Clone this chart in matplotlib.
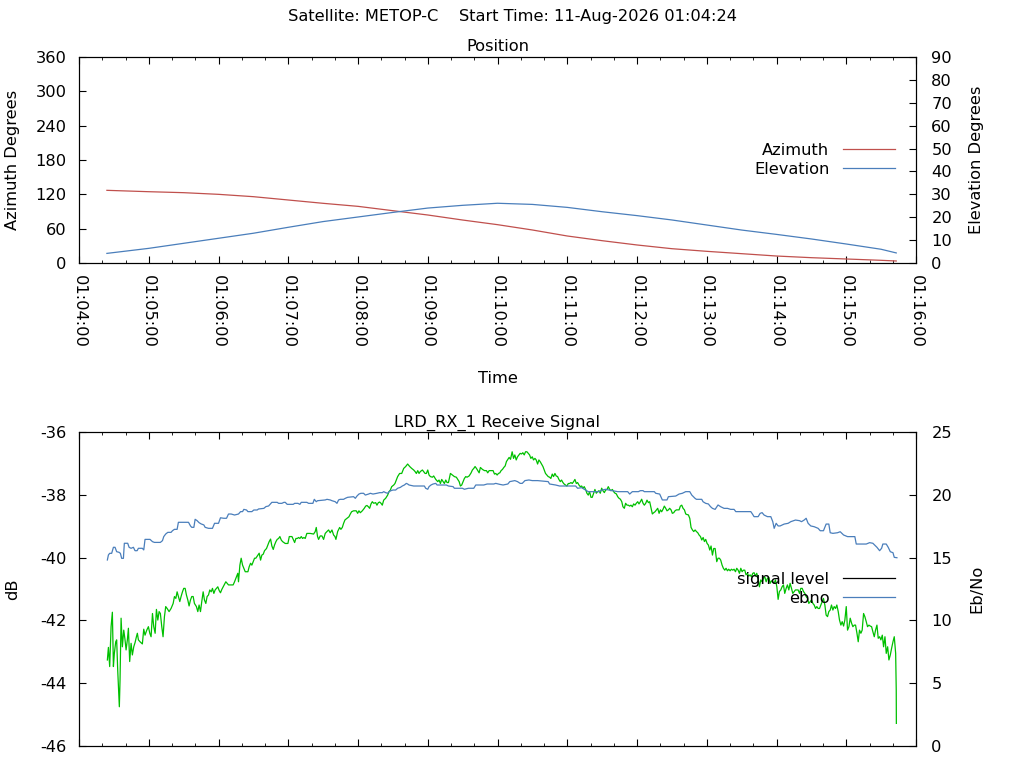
import matplotlib
matplotlib.use('Agg')
import matplotlib.pyplot as plt
from matplotlib.lines import Line2D

FS = 11.7
plt.rcParams['font.family'] = ['DejaVu Sans']
plt.rcParams['font.size'] = FS
plt.rcParams['axes.unicode_minus'] = False

# ---- data (x = seconds after 01:04:00) ----
sup_title = 'Satellite: METOP-C    Start Time: 11-Aug-2026 01:04:24'
time_ticks = [0, 60, 120, 180, 240, 300, 360, 420, 480, 540, 600, 660, 720]
time_labels = ['01:04:00', '01:05:00', '01:06:00', '01:07:00', '01:08:00',
               '01:09:00', '01:10:00', '01:11:00', '01:12:00', '01:13:00',
               '01:14:00', '01:15:00', '01:16:00']

pos_t = [24, 60, 90, 120, 150, 180, 210, 240, 270, 300, 330, 360, 390, 420,
         450, 480, 510, 540, 570, 600, 630, 660, 690, 703]
azimuth = [127.0, 124.6, 122.9, 120.0, 115.9, 110.1, 104.3, 99.0, 91.4, 83.9,
           75.1, 67.0, 57.7, 47.2, 39.0, 31.5, 25.0, 20.4, 16.3, 12.2, 9.3,
           7.0, 4.7, 3.5]
elevation = [4.2, 6.4, 8.6, 10.8, 13.0, 15.6, 18.1, 20.1, 22.1, 24.0, 25.2,
             26.1, 25.6, 24.3, 22.4, 20.7, 18.8, 16.6, 14.4, 12.5, 10.5, 8.3,
             6.0, 4.4]

sig_t = [24.4, 25.3, 26.4, 27.6, 28.7, 29.6, 30.4, 31.6, 32.4, 33.3, 34.2, 34.7,
         35.3, 36.2, 37.3, 38.5, 39.6, 40.5, 41.6, 42.5, 43.6, 44.8, 45.9, 47.1,
         48.2, 49.4, 50.2, 51.1, 52.5, 54.5, 55.7, 56.8, 58.3, 59.7, 60.9, 62.0,
         63.2, 64.3, 65.5, 66.6, 67.8, 68.9, 70.0, 71.2, 72.3, 73.5, 74.6, 75.8,
         77.5, 79.2, 81.0, 82.1, 83.3, 84.4, 85.5, 86.7, 87.8, 89.0, 90.1, 91.3,
         92.4, 93.6, 94.7, 95.9, 97.0, 98.2, 99.3, 101.0, 102.2, 103.3, 104.5,
         105.6, 106.8, 107.9, 109.1, 110.2, 111.4, 112.5, 113.7, 114.8, 116.0,
         117.1, 118.3, 119.4, 120.6, 121.7, 122.9, 124.0, 125.2, 126.3, 127.5,
         128.6, 130.9, 132.6, 133.8, 135.5, 136.6, 137.2, 138.4, 139.5, 140.7,
         141.8, 143.0, 145.3, 146.4, 147.6, 148.7, 149.9, 151.0, 152.1, 153.9,
         155.0, 156.2, 157.3, 158.5, 159.6, 161.3, 162.5, 163.6, 164.8, 165.9,
         167.1, 168.2, 169.4, 170.5, 171.7, 172.8, 174.0, 175.1, 176.3, 177.4,
         179.7, 180.9, 183.2, 184.3, 185.5, 186.6, 187.8, 188.9, 190.0, 191.2,
         192.3, 193.5, 194.6,
         196.0, 198.9, 201.8, 203.2, 204.1, 205.2, 206.1, 207.5, 209.0, 210.4,
         211.8, 213.3, 214.7, 216.1, 217.6, 219.0, 220.2, 221.0, 222.5, 224.2,
         225.3, 226.5, 227.6, 228.8, 230.5, 232.2, 233.4, 234.5, 236.2, 238.5,
         239.7, 240.8, 242.0, 243.7, 245.4, 246.6, 247.7, 248.9, 250.0, 251.2,
         252.3, 253.5, 255.2, 256.3, 257.5, 258.6, 259.8, 260.9, 262.1, 263.8,
         265.5, 266.7, 267.8, 269.0, 270.7, 271.8, 273.0, 274.1, 275.8, 277.6,
         279.3, 281.0, 282.7, 284.5, 286.2, 287.9, 289.1, 290.2, 291.4, 292.5,
         293.6, 295.4, 296.5, 297.7, 298.8, 300.0, 301.1, 302.3, 304.0, 305.1,
         306.9, 308.6, 309.7, 310.9, 312.0, 313.2, 314.3, 315.5, 316.6, 317.8,
         319.5, 321.2, 322.9, 324.6, 325.8, 327.0, 328.1, 329.2, 330.4, 331.5,
         332.7, 333.8, 335.6, 337.3, 338.4, 339.6, 340.7, 341.9, 343.0, 344.2,
         345.3, 347.0, 348.8, 350.5, 351.6, 352.8, 354.5, 356.2, 357.4, 358.5,
         359.7, 360.8, 362.0, 363.1, 364.3, 365.4, 366.6, 367.7, 368.9, 370.0,
         371.2,
         372.6, 373.8, 374.9, 376.1, 377.2, 378.4, 379.5, 380.7, 381.8, 383.0,
         384.1, 385.3, 386.4, 387.6, 388.7, 389.9, 391.0, 392.2, 393.3, 394.5,
         395.6, 396.8, 397.9, 399.1, 400.2, 401.3, 402.5, 403.6, 404.8, 405.9,
         407.1, 408.2, 409.4, 410.5, 411.7, 412.8, 414.0, 415.1, 416.3, 417.4,
         418.6, 419.7, 420.9, 422.0, 423.2, 424.3, 425.5, 426.6, 427.8, 428.9,
         430.1, 431.2, 432.4, 433.5, 434.6, 435.8, 436.9, 438.1, 439.2, 440.4,
         441.5, 442.7, 443.8, 445.0, 446.1, 447.3, 448.4, 449.6, 450.7, 451.9,
         453.0, 454.2, 455.3, 456.5, 457.6, 458.8, 459.9, 461.1, 462.2, 463.4,
         464.5, 465.7, 466.9, 467.9, 469.1, 470.2, 471.4, 472.5, 473.7, 474.8,
         476.0, 477.1, 478.3, 479.4, 480.6, 481.7, 482.9, 484.0, 485.2, 486.3,
         487.5, 488.6, 489.8, 490.9, 492.1, 493.2, 494.4, 495.5, 496.7, 497.8,
         499.0, 500.1, 501.2, 502.4, 503.5, 504.7, 505.8, 507.0, 508.1, 509.3,
         510.4, 511.6, 512.7, 513.9, 515.0, 516.2, 517.3, 518.5, 519.6, 520.8,
         521.9, 523.1, 524.2, 525.4, 526.5, 527.7, 528.8, 530.0, 531.1, 532.3,
         533.4, 534.6, 535.7, 536.9, 538.0, 539.1, 540.3, 541.4, 542.6, 543.7,
         544.9, 546.0, 547.2,
         548.6, 549.7, 550.9, 552.0, 553.2, 554.3, 555.5, 556.6, 557.8, 558.9,
         560.1, 561.2, 562.4, 563.5, 564.7, 565.8, 567.0, 568.1, 569.3, 570.4,
         571.5, 572.7, 573.8, 575.0, 576.1, 577.3, 578.4, 579.6, 580.7, 581.9,
         583.0, 584.2, 585.3, 586.5, 587.6, 588.8, 589.9, 591.1, 592.2, 593.4,
         594.5, 595.7, 596.8, 598.0, 599.1, 600.3, 601.4, 602.5, 603.7, 604.8,
         606.0, 607.1, 608.3, 609.4, 610.6, 611.7, 612.9, 614.0, 615.2, 616.3,
         617.5, 618.6, 619.8, 620.9, 622.1, 623.2, 624.4, 625.5, 626.7, 627.8,
         629.0, 630.1, 631.3, 632.4, 633.6, 634.7, 635.8, 637.0, 638.1, 639.3,
         640.4, 641.6, 642.7, 643.9, 645.0, 646.2, 647.3, 648.5, 649.6, 650.8,
         651.9, 653.1, 654.2, 655.4, 656.5, 657.7, 658.8, 660.0, 661.1, 662.3,
         663.4, 664.6, 665.7, 666.9, 668.0, 669.2, 670.3, 671.4, 672.6, 673.7,
         674.9, 676.0, 677.2, 678.3, 679.5, 680.6, 681.8, 682.9, 684.1, 685.2,
         686.4, 687.5, 688.7, 689.8, 691.0, 692.1, 693.3, 694.4, 695.6, 696.7,
         697.9, 699.0, 700.2, 701.3, 702.5, 703.0, 703.1]
signal_db = [-43.26, -42.86, -43.47, -42.20, -41.74, -43.47, -43.05, -42.68, -42.62,
             -43.58, -44.32, -44.75, -43.90, -41.93, -42.84, -42.31, -42.62, -42.94,
             -42.62, -42.25, -43.31, -42.73, -43.10, -42.84, -42.71, -42.52, -42.41,
             -42.62, -42.68, -42.75, -42.28, -42.47, -42.31, -42.20, -42.41, -42.52,
             -41.78, -42.20, -42.41, -41.65, -41.99, -41.72, -41.78, -42.20, -42.52,
             -41.88, -41.56, -41.62, -41.72, -41.62, -41.46, -41.24, -41.30, -41.09,
             -41.24, -41.40, -41.24, -41.09, -40.98, -40.98, -41.19, -41.35, -41.54,
             -41.35, -41.24, -41.24, -41.46, -41.56, -41.72, -41.51, -41.72, -41.40,
             -41.09, -41.35, -41.46, -41.24, -41.19, -41.03, -41.09, -40.98, -41.14,
             -41.03, -40.98, -40.93, -41.05, -41.12, -41.01, -40.93, -40.84, -40.77,
             -40.82, -40.87, -40.87, -40.87, -40.77, -40.61, -40.50, -40.77, -40.24,
             -40.02, -40.24, -40.34, -40.45, -40.45, -40.29, -40.18, -40.24, -40.13,
             -40.02, -40.02, -39.92, -39.86, -40.08, -39.92, -39.89, -39.78, -39.71,
             -39.60, -39.49, -39.41, -39.63, -39.74, -39.60, -39.49, -39.42, -39.39,
             -39.33, -39.44, -39.49, -39.52, -39.55, -39.55, -39.33, -39.33, -39.42,
             -39.52, -39.39, -39.39, -39.36, -39.39, -39.33, -39.39, -39.36, -39.39,
             -39.23, -39.23, -39.25, -39.17, -39.04, -39.33, -39.42, -39.31, -39.31,
             -39.42, -39.23, -39.17, -39.12, -39.21, -39.12, -39.28, -39.33, -39.42,
             -39.17, -39.04, -39.10, -39.04, -38.91, -38.80, -38.75, -38.70, -38.61,
             -38.54, -38.51, -38.51, -38.59, -38.51, -38.57, -38.51, -38.43, -38.36,
             -38.34, -38.38, -38.43, -38.29, -38.22, -38.27, -38.25, -38.33, -38.25,
             -38.23, -38.27, -38.33, -38.17, -38.11, -38.01, -37.90, -37.85, -37.74,
             -37.69, -37.64, -37.53, -37.42, -37.32, -37.32, -37.16, -37.10, -37.02,
             -37.10, -37.16, -37.21, -37.26, -37.32, -37.23, -37.32, -37.26, -37.21,
             -37.26, -37.32, -37.32, -37.21, -37.37, -37.42, -37.44, -37.40, -37.51,
             -37.58, -37.53, -37.64, -37.51, -37.58, -37.64, -37.53, -37.61, -37.61,
             -37.32, -37.37, -37.42, -37.44, -37.51, -37.58, -37.72, -37.69, -37.58,
             -37.48, -37.42, -37.44, -37.40, -37.30, -37.21, -37.16, -37.10, -37.16,
             -37.23, -37.30, -37.13, -37.19, -37.23, -37.23, -37.30, -37.23, -37.23,
             -37.23, -37.34, -37.32, -37.37, -37.32, -37.30, -37.23, -37.19, -37.13,
             -37.08, -36.94, -36.87, -36.81, -36.87,
             -36.63, -36.84, -36.73, -36.89, -36.79, -36.73, -36.68, -36.70, -36.66,
             -36.73, -36.63, -36.63, -36.68, -36.73, -36.84, -36.79, -36.89, -36.84,
             -36.89, -37.02, -36.89, -36.95, -37.02, -37.10, -37.21, -37.32, -37.37,
             -37.42, -37.44, -37.48, -37.34, -37.42, -37.32, -37.40, -37.42, -37.51,
             -37.58, -37.53, -37.61, -37.66, -37.69, -37.72, -37.64, -37.64, -37.61,
             -37.64, -37.58, -37.51, -37.64, -37.61, -37.69, -37.74, -37.72, -37.79,
             -37.74, -37.83, -37.95, -38.01, -37.90, -38.08, -38.08, -37.95, -37.83,
             -37.95, -37.90, -37.87, -37.95, -37.79, -37.87, -37.93, -37.85, -37.83,
             -37.74, -37.83, -37.87, -37.83, -37.90, -37.95, -37.97, -38.06, -38.11,
             -38.14, -38.22, -38.38, -38.43, -38.27, -38.33, -38.33, -38.36, -38.33,
             -38.38, -38.29, -38.33, -38.27, -38.22, -38.29, -38.22, -38.14, -38.27,
             -38.33, -38.27, -38.17, -38.25, -38.22, -38.43, -38.61, -38.57, -38.54,
             -38.48, -38.43, -38.59, -38.48, -38.54, -38.46, -38.36, -38.43, -38.51,
             -38.48, -38.43, -38.48, -38.59, -38.57, -38.51, -38.48, -38.48, -38.48,
             -38.36, -38.33, -38.43, -38.48, -38.61, -38.63, -38.64, -38.75, -39.04,
             -39.12, -39.17, -39.12, -39.17, -39.21, -39.28, -39.33, -39.44, -39.36,
             -39.49, -39.42, -39.55, -39.60, -39.76, -39.63, -39.92, -39.71, -39.71,
             -40.13, -40.02, -40.02, -40.08, -40.24, -40.34, -40.40, -40.34, -40.42,
             -40.37, -40.42, -40.37, -40.40, -40.37, -40.45, -40.34, -40.40, -40.50,
             -40.34, -40.45, -40.40, -40.40, -40.55, -40.50, -40.59, -40.55, -40.61,
             -40.50, -40.48, -40.59, -40.50, -40.66, -40.93, -40.71, -40.77, -40.66,
             -40.61, -40.77, -40.66, -40.63, -40.82, -40.74, -40.77, -40.82, -40.71,
             -40.93, -41.33, -41.08, -41.03, -40.93, -40.87, -41.14, -40.98, -40.87,
             -41.03, -40.82, -40.98, -41.14, -41.08, -41.03, -41.03, -41.03, -41.14,
             -40.98, -40.98, -41.08, -41.14, -41.24, -41.30, -41.46, -41.40, -41.35,
             -41.46, -41.51, -41.62, -41.56, -41.62, -41.62, -41.51, -41.40, -41.30,
             -41.51, -41.83, -41.88, -41.72, -41.67, -41.51, -41.67, -41.56, -41.62,
             -41.51, -41.72, -41.99, -42.15, -42.04, -42.18, -41.99, -41.56, -42.31,
             -42.20, -41.93, -42.09, -42.20, -42.15, -42.15, -42.41, -42.68, -42.31,
             -42.41, -42.31, -41.78, -41.88, -42.04, -42.20, -42.15, -42.18, -42.20,
             -42.36, -42.52, -42.31, -42.15, -42.57, -42.52, -42.62, -42.47, -42.84,
             -42.52, -43.05, -42.84, -43.26, -43.10, -42.89, -42.68, -42.52, -43.05,
             -44.22, -45.28]

ebno_t = [24.4, 25.3, 26.4, 28.1, 29.6, 31.0, 32.4, 34.5, 35.6, 36.7, 38.2, 39.0,
          41.9, 43.1, 44.8, 46.8, 48.2, 50.0, 51.1, 54.5, 55.7, 56.8, 61.1, 63.2,
          64.9, 70.0, 71.8, 72.9, 74.6, 76.4, 79.2, 80.4, 82.1, 84.4, 85.5, 94.2,
          95.9, 97.0, 98.8, 99.9, 101.6, 103.3, 105.1, 107.4, 108.5, 111.4, 114.8,
          116.6, 120.0, 121.7, 124.6, 126.9, 128.6, 130.9, 133.8, 137.2, 139.0,
          140.7, 141.8, 144.1, 145.3, 148.7, 150.4, 153.3, 154.4, 159.0, 160.8,
          163.1, 165.9, 170.5, 171.7, 174.5, 176.3, 177.4, 179.1, 184.3, 185.5,
          188.3, 190.0, 191.2, 194.6,
          196.0, 197.5, 201.2, 202.4, 204.1, 205.2, 211.8, 213.3, 216.1, 217.6,
          220.4, 221.9, 223.3, 224.7, 227.6, 229.1, 231.1, 236.2, 237.7, 239.1,
          240.8, 242.5, 244.8, 246.3, 249.1, 250.6, 252.9, 256.3, 258.6, 260.9,
          262.1, 263.8, 265.5, 266.7, 268.4, 270.1, 272.4, 274.1, 276.4, 278.1,
          279.9, 281.6, 282.7, 283.9, 287.9, 297.1, 298.2, 300.0, 301.1, 302.8,
          304.6, 306.9, 308.0, 316.0, 317.8, 321.8, 322.9, 329.8, 331.5, 335.0,
          339.6, 341.3, 348.2, 351.1, 356.8, 358.5, 362.0, 364.8, 368.9, 370.6,
          374.9, 377.2, 379.5, 381.3, 383.6, 387.0, 389.9, 394.5, 403.6, 404.8,
          410.0, 413.4, 427.2, 428.9, 432.4, 434.6, 438.1, 447.3, 450.1, 453.0,
          455.9, 463.4, 472.0, 473.7, 476.0, 481.2, 482.9, 485.2, 486.3, 494.9,
          496.1, 499.5, 501.8, 505.8, 507.0, 513.3, 516.2, 519.0, 521.9, 525.4,
          527.1, 529.9, 531.1, 535.7, 536.8, 539.1, 541.4, 543.2, 544.9, 547.2,
          549.7, 552.0, 554.9, 557.8, 560.6, 563.5, 565.0, 577.9, 579.3, 580.7,
          584.2, 585.9, 587.6, 589.3, 592.2, 595.1, 596.8, 598.0, 599.7, 601.4,
          603.1, 606.6, 610.0, 612.3, 616.3, 619.8, 621.5, 623.8, 625.5, 627.2,
          629.5, 632.4, 635.8, 637.6, 640.4, 642.7, 645.0, 646.2, 648.5, 652.5,
          654.8, 657.7, 661.1, 667.4, 668.6, 677.2, 680.1, 682.9, 686.4, 688.7,
          690.4, 691.5, 694.4, 696.1, 697.9, 700.2, 701.3, 703.6]
ebno = [14.81, 15.21, 15.34, 15.34, 15.82, 15.82, 15.47, 15.42, 15.34, 14.94, 14.94,
        16.14, 16.14, 15.82, 15.74, 15.82, 15.55, 15.55, 15.74, 15.74, 15.61, 16.45,
        16.45, 16.27, 16.21, 16.21, 16.35, 16.67, 16.88, 17.01, 17.01, 17.14, 17.25,
        17.25, 17.81, 17.81, 17.52, 17.41, 17.41, 18.05, 17.94, 17.78, 17.68, 17.60,
        17.41, 17.33, 17.33, 17.73, 17.73, 18.17, 18.13, 18.13, 18.47, 18.47, 18.39,
        18.47, 18.66, 18.66, 18.84, 18.79, 18.66, 18.66, 18.79, 18.79, 18.87, 18.92,
        19.06, 19.11, 19.40, 19.40, 19.32, 19.32, 19.40, 19.40, 19.24, 19.24, 19.32,
        19.32, 19.24, 19.40, 19.40,
        19.40, 19.32, 19.32, 19.64, 19.45, 19.53, 19.59, 19.64, 19.59, 19.53, 19.45,
        19.32, 19.59, 19.64, 19.64, 19.72, 19.80, 19.85, 19.72, 19.90, 20.06, 20.12,
        20.12, 19.98, 20.06, 20.12, 20.06, 20.12, 20.17, 20.17, 20.25, 20.17, 20.12,
        20.25, 20.33, 20.38, 20.38, 20.52, 20.59, 20.70, 20.78, 20.91, 20.86, 20.78,
        20.70, 20.70, 20.52, 20.44, 20.65, 20.78, 20.86, 20.91, 20.78, 20.78, 20.70,
        20.65, 20.52, 20.52, 20.44, 20.52, 20.52, 20.78, 20.78, 20.86, 20.86, 20.91,
        20.83, 20.78, 20.86, 21.05,
        21.13, 21.05, 20.91, 20.91, 21.13, 21.18, 21.13, 21.13, 21.05, 20.86, 20.78,
        20.70, 20.70, 20.52, 20.57, 20.44, 20.25, 20.25, 20.38, 20.44, 20.38, 20.25,
        20.25, 20.06, 20.25, 20.25, 20.33, 20.33, 20.25, 20.25, 20.12, 20.06, 19.59,
        19.59, 19.85, 19.90, 20.06, 20.12, 20.25, 20.25, 19.98, 19.72, 19.64, 19.64,
        19.45, 19.32, 19.27, 19.06, 18.92, 18.84,
        19.19, 19.05, 18.92, 18.92, 18.84, 18.84, 18.66, 18.66, 18.47, 18.26, 18.26,
        18.52, 18.58, 18.39, 18.26, 18.26, 17.86, 17.33, 17.73, 17.52, 17.52, 17.67,
        17.73, 17.86, 17.99, 17.94, 17.86, 17.99, 18.13, 17.73, 17.52, 17.46, 17.33,
        17.14, 17.14, 17.67, 17.67, 16.98, 16.93, 16.98, 17.06, 16.80, 16.67, 16.67,
        16.08, 16.08, 16.19, 16.14, 15.82, 15.55, 15.74, 16.08, 16.08, 15.82, 15.47,
        15.39, 15.02, 14.99]

RED, BLUE, GREEN = '#c0504d', '#4a7ebb', '#00c000'

fig = plt.figure(figsize=(10.24, 7.68), dpi=100)
fig.suptitle(sup_title, x=0.5, y=1 - 17 / 768, va='center', fontsize=FS)

# ---- 上图: Position ----
ax1 = fig.add_axes([79 / 1024, 1 - 263 / 768, 837 / 1024, 206 / 768])
ax1b = ax1.twinx()
ax1.plot(pos_t, azimuth, color=RED, lw=0.9)
ax1b.plot(pos_t, elevation, color=BLUE, lw=0.9)
ax1.set_ylim(0, 360); ax1.set_yticks(range(0, 361, 60))
ax1b.set_ylim(0, 90); ax1b.set_yticks(range(0, 91, 10))
ax1.set_title('Position', fontsize=FS, pad=4)
ax1.set_xlabel('Time')
ax1.xaxis.set_label_coords(0.5, -0.525)
ax1.set_ylabel('Azimuth Degrees')
ax1b.set_ylabel('Elevation Degrees')
ax1.yaxis.label.set_va('center'); ax1.yaxis.set_label_coords(-0.079, 0.5)
ax1b.yaxis.label.set_va('center'); ax1b.yaxis.set_label_coords(1.0725, 0.5)
ax1b.legend(handles=[Line2D([], [], color=RED, lw=0.9),
                     Line2D([], [], color=BLUE, lw=0.9)],
            labels=['Azimuth', 'Elevation'], loc='center right',
            bbox_to_anchor=(0.975, 0.5), frameon=False, markerfirst=False,
            borderpad=0, borderaxespad=0, handlelength=3.2,
            handletextpad=0.85, labelspacing=0.25, fontsize=FS)

# ---- 下图: Receive Signal ----
ax2 = fig.add_axes([79 / 1024, 1 - 746 / 768, 837 / 1024, 314 / 768])
ax2b = ax2.twinx()
ax2.plot(sig_t, signal_db, color=GREEN, lw=0.9)
ax2b.plot(ebno_t, ebno, color=BLUE, lw=0.9)
ax2.set_ylim(-46, -36); ax2.set_yticks(range(-46, -35, 2))
ax2b.set_ylim(0, 25); ax2b.set_yticks(range(0, 26, 5))
ax2.set_title('LRD_RX_1 Receive Signal', fontsize=FS, pad=4)
ax2.set_ylabel('dB')
ax2b.set_ylabel('Eb/No')
ax2.yaxis.label.set_va('center'); ax2.yaxis.set_label_coords(-0.079, 0.5)
ax2b.yaxis.label.set_va('center'); ax2b.yaxis.set_label_coords(1.0725, 0.5)
ax2b.legend(handles=[Line2D([], [], color='black', lw=0.9),
                     Line2D([], [], color=BLUE, lw=0.9)],
            labels=['signal level', 'ebno'], loc='center right',
            bbox_to_anchor=(0.975, 0.5), frameon=False, markerfirst=False,
            borderpad=0, borderaxespad=0, handlelength=3.2,
            handletextpad=0.85, labelspacing=0.25, fontsize=FS)

# ---- 公共坐标轴样式 ----
for ax, show_labels in ((ax1, True), (ax2, False)):
    ax.set_xlim(0, 720)
    ax.set_xticks(time_ticks)
    ax.set_xticks(range(0, 721, 20), minor=True)
    ax.set_xticklabels(time_labels if show_labels else [], rotation=-90)
    ax.tick_params(axis='x', which='both', direction='in', top=True,
                   labelbottom=show_labels)
    ax.tick_params(axis='x', which='major', length=5, pad=8.5)
    ax.tick_params(axis='x', which='minor', length=2.5)
    ax.tick_params(axis='y', direction='in', length=5, pad=9, right=False)
for ax in (ax1b, ax2b):
    ax.tick_params(axis='y', direction='in', length=5, pad=11)

fig.savefig('out.png', dpi=100)
